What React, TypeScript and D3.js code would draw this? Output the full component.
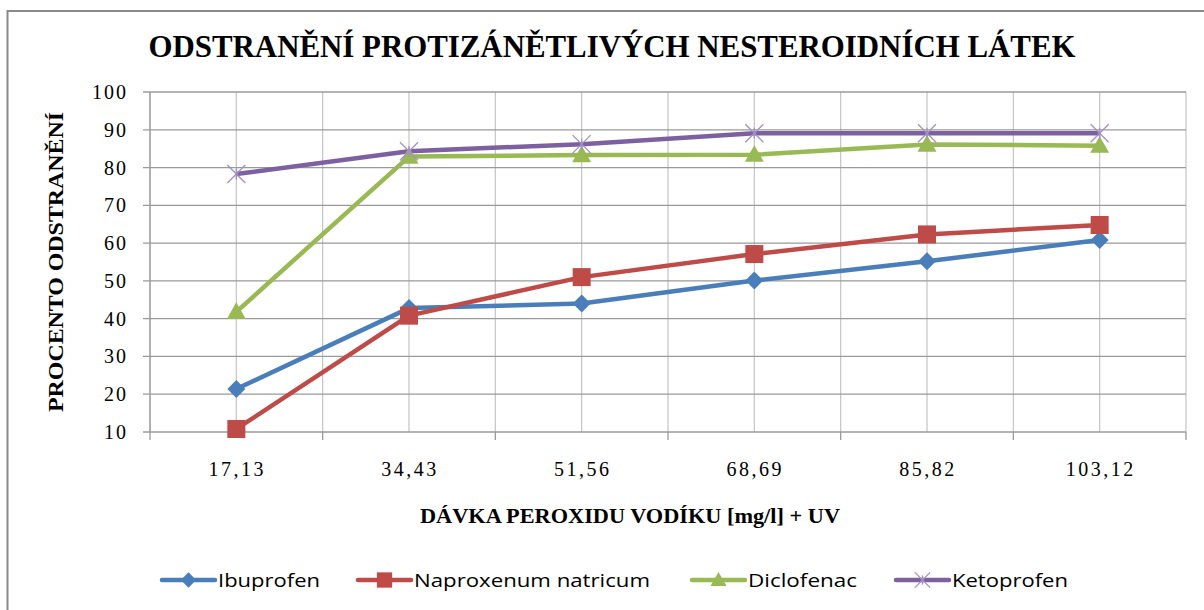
import React from "react";
import * as d3 from "d3";

const categories = ["17,13", "34,43", "51,56", "68,69", "85,82", "103,12"];
const ibuprofen = [21.4, 42.8, 44.0, 50.1, 55.2, 60.8];
const naproxenum = [10.8, 40.8, 51.0, 57.1, 62.3, 64.8];
const diclofenac = [41.8, 82.9, 83.3, 83.4, 86.1, 85.8];
const ketoprofen = [78.3, 84.3, 86.2, 89.1, 89.1, 89.1];
const yTicks = [10, 20, 30, 40, 50, 60, 70, 80, 90, 100];
const seriesNames = ["Ibuprofen", "Naproxenum natricum", "Diclofenac", "Ketoprofen"];
const seriesColors = ["#4a7ebb", "#be4b48", "#98b954", "#7d60a0"];
const seriesValues = [ibuprofen, naproxenum, diclofenac, ketoprofen];
const markers = ["diamond", "square", "triangle", "x"];

const W = 1204, H = 610;
const L = 150, R = 1186, T = 92, B = 432;

function Marker({ kind, x, y, color, s = 1 }: any) {
  if (kind === "diamond") {
    const r = 9 * s;
    return <path d={`M${x},${y - r}L${x + r},${y}L${x},${y + r}L${x - r},${y}Z`} fill={color} />;
  }
  if (kind === "square") {
    const r = 9 * s;
    return <rect x={x - r} y={y - r} width={2 * r} height={2 * r} fill={color} />;
  }
  if (kind === "triangle") {
    const r = 9.5 * s;
    return <path d={`M${x},${y - r}L${x + r},${y + r * 0.75}L${x - r},${y + r * 0.75}Z`} fill={color} />;
  }
  const r = 9 * s;
  return (
    <g stroke="#a48fc4" strokeWidth={1.3}>
      <line x1={x - r} y1={y - r} x2={x + r} y2={y + r} />
      <line x1={x - r} y1={y + r} x2={x + r} y2={y - r} />
      <line x1={x} y1={y - r * 0.6} x2={x} y2={y + r * 0.6} />
    </g>
  );
}

export default function App() {
  const x = d3.scaleBand<string>().domain(categories).range([L, R]).padding(0);
  const bw = x.bandwidth();
  const cx = (c: string) => (x(c) as number) + bw / 2;
  const y = d3.scaleLinear().domain([10, 100]).range([B, T]);
  const line = d3
    .line<number>()
    .x((_, i) => cx(categories[i]))
    .y((v) => y(v));

  const vLines: number[] = [];
  categories.forEach((c) => {
    vLines.push(x(c) as number);
    vLines.push(cx(c));
  });
  vLines.push(R);

  const legendItems = [
    { lx: 162, tx: 218, tw: 102 },
    { lx: 358, tx: 414, tw: 236 },
    { lx: 692, tx: 748, tw: 109 },
    { lx: 896, tx: 952, tw: 116 },
  ];
  const legY = 580;

  return (
    <svg width={W} height={H} style={{ position: "absolute", left: 0, top: 0, background: "#fff" }}>
      <rect x={0} y={0} width={W} height={H} fill="#fff" />
      <rect x={7.5} y={11} width={1230} height={640} fill="#fff" stroke="#8a8a8a" strokeWidth={2} />

      <text
        x={612}
        y={57}
        textAnchor="middle"
        fontFamily="'Liberation Serif', serif"
        fontWeight="bold"
        fontSize={31}
        textLength={927}
        lengthAdjust="spacingAndGlyphs"
      >
        ODSTRANĚNÍ PROTIZÁNĚTLIVÝCH NESTEROIDNÍCH LÁTEK
      </text>

      {/* grid */}
      {vLines.map((vx, i) => (
        <line key={"v" + i} x1={vx} x2={vx} y1={T} y2={B} stroke="#c4c4c4" strokeWidth={1.2} />
      ))}
      {yTicks.map((t) => (
        <line key={"h" + t} x1={L - 7} x2={R} y1={y(t)} y2={y(t)} stroke="#9a9a9a" strokeWidth={1.3} />
      ))}
      <line x1={L} x2={L} y1={T} y2={B} stroke="#9a9a9a" strokeWidth={1.3} />
      {categories.map((c) => (
        <line key={"xt" + c} x1={x(c) as number} x2={x(c) as number} y1={B} y2={B + 8} stroke="#9a9a9a" strokeWidth={1.3} />
      ))}
      <line x1={R} x2={R} y1={B} y2={B + 8} stroke="#9a9a9a" strokeWidth={1.3} />

      {/* y tick labels */}
      {yTicks.map((t) => (
        <text
          key={"yl" + t}
          x={128}
          y={y(t) + 7}
          textAnchor="end"
          fontFamily="'Liberation Serif', serif"
          fontSize={20}
          letterSpacing={2}
        >
          {t}
        </text>
      ))}
      {/* x tick labels */}
      {categories.map((c) => (
        <text
          key={"xl" + c}
          x={cx(c) + 1}
          y={476}
          textAnchor="middle"
          fontFamily="'Liberation Serif', serif"
          fontSize={20}
          letterSpacing={2.5}
        >
          {c}
        </text>
      ))}

      {/* axis titles */}
      <text
        x={630}
        y={523}
        textAnchor="middle"
        fontFamily="'Liberation Serif', serif"
        fontWeight="bold"
        fontSize={22}
        textLength={420}
        lengthAdjust="spacingAndGlyphs"
      >
        DÁVKA PEROXIDU VODÍKU [mg/l] + UV
      </text>
      <text
        transform="translate(63,262) rotate(-90)"
        textAnchor="middle"
        fontFamily="'Liberation Serif', serif"
        fontWeight="bold"
        fontSize={22}
        textLength={300}
        lengthAdjust="spacingAndGlyphs"
      >
        PROCENTO ODSTRANĚNÍ
      </text>

      {/* series lines */}
      {seriesValues.map((vals, i) => (
        <path
          key={"l" + i}
          d={line(vals) as string}
          fill="none"
          stroke={seriesColors[i]}
          strokeWidth={4.5}
          strokeLinejoin="round"
        />
      ))}
      {seriesValues.map((vals, i) => (
        <g key={"m" + i}>
          {vals.map((v, j) => (
            <Marker key={j} kind={markers[i]} x={cx(categories[j])} y={y(v)} color={seriesColors[i]} />
          ))}
        </g>
      ))}

      {/* legend */}
      {seriesNames.map((n, i) => {
        const it = legendItems[i];
        return (
          <g key={"lg" + i}>
            <line x1={it.lx} x2={it.lx + 53} y1={legY} y2={legY} stroke={seriesColors[i]} strokeWidth={4.5} strokeLinecap="round" />
            <Marker kind={markers[i]} x={it.lx + 26.5} y={legY} color={seriesColors[i]} s={0.85} />
            <text
              x={it.tx}
              y={legY + 7}
              fontFamily="'Open Sans', sans-serif"
              fontSize={19}
              textLength={it.tw}
              lengthAdjust="spacingAndGlyphs"
              fill="#000"
            >
              {n}
            </text>
          </g>
        );
      })}
    </svg>
  );
}
